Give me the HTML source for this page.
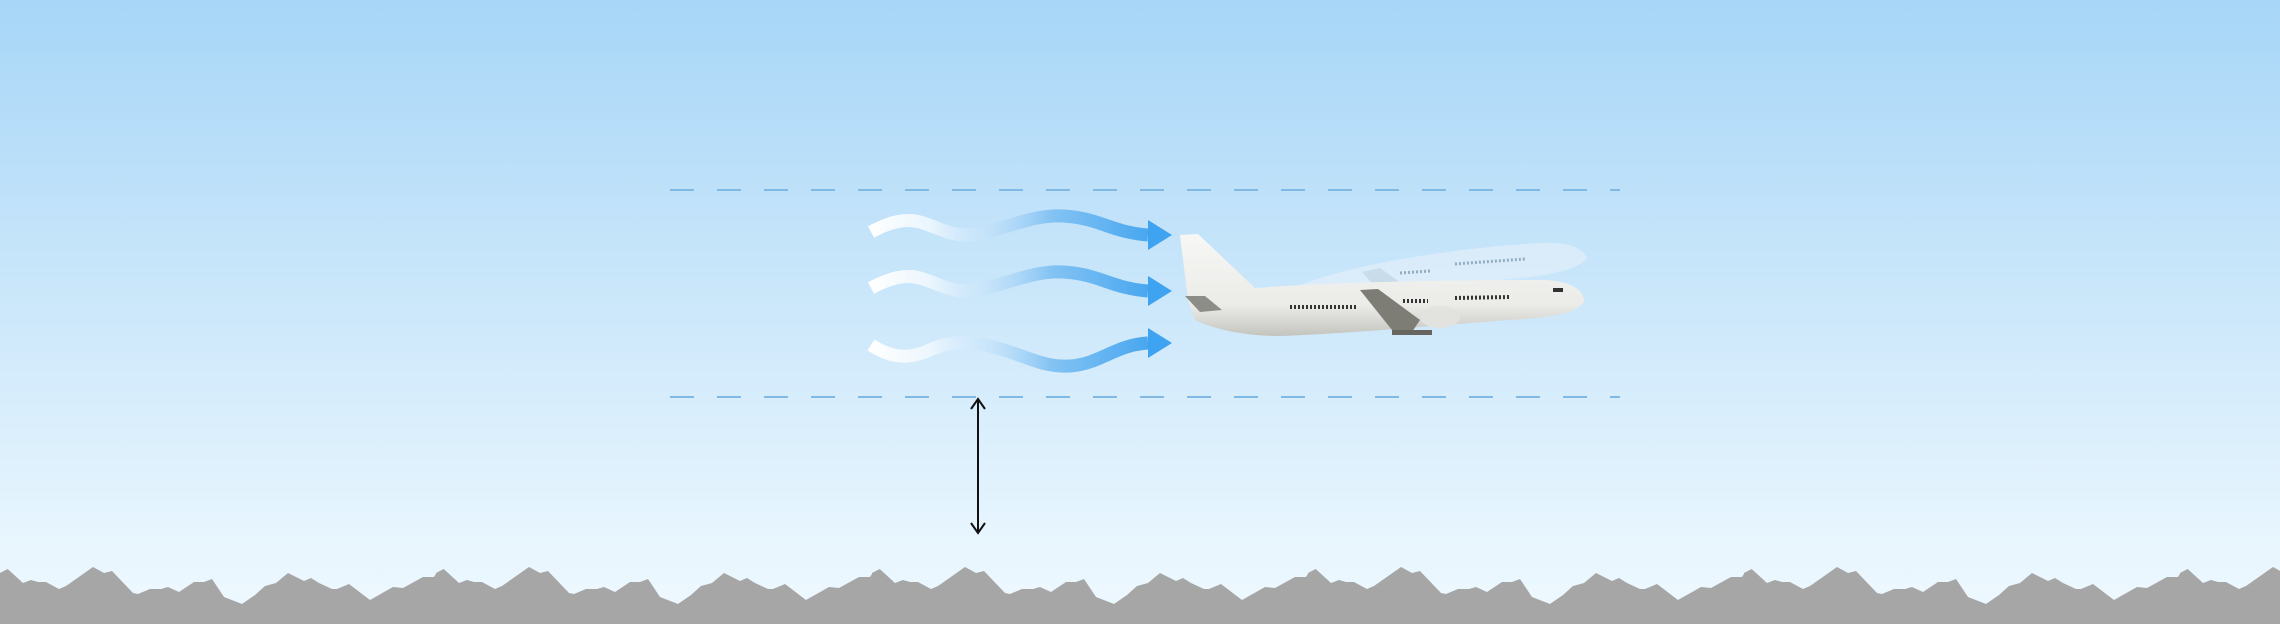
<!DOCTYPE html>
<html><head><meta charset="utf-8"><style>
html,body{margin:0;padding:0;width:2280px;height:624px;overflow:hidden}
body{background:linear-gradient(#a7d6f8,#c9e6fa 45%,#e9f6fe 88%,#eef8ff)}
svg{position:absolute;left:0;top:0}
</style></head><body>
<svg width="2280" height="624" viewBox="0 0 2280 624">
<defs>
<linearGradient id="ag" x1="869" y1="0" x2="1172" y2="0" gradientUnits="userSpaceOnUse">
<stop offset="0" stop-color="#ffffff"/>
<stop offset="0.2" stop-color="#f2f9fe" stop-opacity="0.85"/>
<stop offset="0.35" stop-color="#cfe7fb" stop-opacity="0.5"/>
<stop offset="0.6" stop-color="#84c3f3"/>
<stop offset="1" stop-color="#3aa0ef"/>
</linearGradient>
<linearGradient id="fus" x1="0" y1="0" x2="0" y2="1">
<stop offset="0" stop-color="#f7f7f5"/><stop offset="0.7" stop-color="#ebebe8"/><stop offset="1" stop-color="#c4c4bf"/>
</linearGradient>
<g id="mt"><path d="M0,573 L7.7,569 L23,583 L31,580 L38,582 L46,582 L59,589 L66,586 L93,567 L104,573 L112,571 L133,593 L138,594 L150,589 L161,589 L168,587 L179,592 L194,582 L204,582 L212,579 L224,597 L242,604 L255,595 L265,586 L276,583 L288,573 L304,581 L311,578 L319,583 L332,589 L337,589 L349,584 L370,600 L393,587 L403,588 L423,577 L434,577 L436.5,573 L436.5,624 L0,624 Z" fill="#a6a6a6"/></g>
</defs>
<g stroke="#80b9e4" stroke-width="2" stroke-dasharray="24,23">
<line x1="670" y1="190" x2="1620" y2="190"/>
<line x1="670" y1="397" x2="1620" y2="397"/>
</g>
<g fill="none" stroke="url(#ag)" stroke-width="13">
<path d="M871,232 C890,222 905,218 920,222 C940,228 950,236 970,235 C1000,232 1030,214 1063,216 C1100,218 1110,232 1148,235"/>
<path d="M871,288 C890,278 905,274 920,278 C940,284 950,292 970,291 C1000,288 1030,270 1063,272 C1100,274 1110,288 1148,291"/>
<path d="M871,345 C888,356 905,360 925,352 C945,343 960,340 985,345 C1020,352 1040,368 1070,366 C1100,364 1115,345 1148,343"/>
</g>
<g fill="#3ea3f0">
<path d="M1148,220 L1172,235 L1148,250 Z"/>
<path d="M1148,276 L1172,291 L1148,306 Z"/>
<path d="M1148,328 L1172,343 L1148,358 Z"/>
</g>
<!-- ghost plane -->
<g opacity="0.6">
<path d="M1300,285 C1360,262 1460,248 1540,243 C1570,241 1585,250 1587,258 C1580,268 1555,275 1520,278 C1450,285 1380,292 1330,294 Z" fill="#e8f2fa"/>
<path d="M1362,272 L1380,268 L1408,288 L1380,292 Z" fill="#c9d7e0"/>
<g stroke="#6f889c" stroke-width="3" stroke-dasharray="2,2"><line x1="1400" y1="273" x2="1430" y2="271"/><line x1="1455" y1="264" x2="1525" y2="259"/></g>
</g>
<!-- main plane -->
<path d="M1180,235 L1198,234 L1255,288 C1320,283 1420,280 1545,280 C1570,281 1585,290 1584,302 C1575,315 1545,318 1510,320 C1430,326 1340,334 1280,336 C1240,336 1212,328 1195,320 L1188,300 Z" fill="url(#fus)"/>
<path d="M1185,296 L1205,296 L1222,310 L1200,312 Z" fill="#8d8d88"/>
<path d="M1360,290 L1378,289 L1420,320 L1410,335 L1392,330 Z" fill="#7d7d75"/>
<ellipse cx="1440" cy="317" rx="20" ry="11" fill="#e2e2de"/>
<rect x="1392" y="330" width="40" height="5" fill="#66665f"/>
<g stroke="#333" stroke-width="4" stroke-dasharray="2,2">
<line x1="1290" y1="307" x2="1358" y2="307"/>
<line x1="1403" y1="301" x2="1428" y2="301"/>
<line x1="1455" y1="298" x2="1510" y2="297"/>
</g>
<rect x="1553" y="288" width="10" height="4" fill="#333"/>
<!-- altitude arrow -->
<g stroke="#111" stroke-width="2" fill="none">
<line x1="978" y1="400" x2="978" y2="532"/>
<polyline points="971,409 978,399 985,409"/>
<polyline points="971,523 978,533 985,523"/>
</g>
<!-- mountains -->
<use href="#mt" x="0"/><use href="#mt" x="436"/><use href="#mt" x="872"/><use href="#mt" x="1308"/><use href="#mt" x="1744"/><use href="#mt" x="2180"/>
</svg>
</body></html>
